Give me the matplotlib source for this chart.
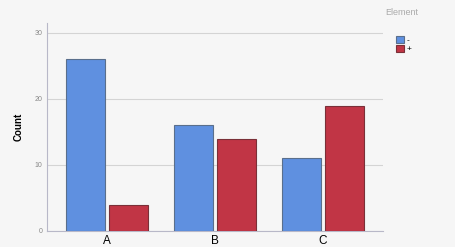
import numpy as np
import matplotlib
matplotlib.use('Agg')
import matplotlib.pyplot as plt

categories = ['A', 'B', 'C']
minus_counts = [26, 16, 11]
plus_counts = [4, 14, 19]
series_labels = ['-', '+']
legend_title = 'Element'
yticks = [0, 10, 20, 30]

plt.rcParams['font.family'] = ['Liberation Sans', 'DejaVu Sans']

fig = plt.figure(figsize=(4.55, 2.47), dpi=100)
fig.patch.set_facecolor('#f6f6f6')
ax = fig.add_axes([0.103, 0.065, 0.739, 0.842])
ax.set_facecolor('#f6f6f6')

x = np.arange(len(categories))
w = 0.355
off = 0.2
ax.bar(x - off, minus_counts, w, color='#5f90e0', edgecolor='#5a6f8c', linewidth=0.8, label=series_labels[0], zorder=3)
ax.bar(x + off, plus_counts, w, color='#c13545', edgecolor='#7a3038', linewidth=0.8, label=series_labels[1], zorder=3)

ax.set_xlim(-0.556, 2.556)
ax.set_ylim(0, 31.5)
ax.set_yticks(yticks)
ax.set_xticks(x)
ax.set_xticklabels(categories, fontsize=8.5)
ax.tick_params(axis='y', labelsize=5, colors='#888888', length=0, pad=3)
ax.tick_params(axis='x', length=0, pad=3)
ax.yaxis.grid(True, color='#d4d4d4', linewidth=0.8, zorder=0)
for s in ['top', 'right']:
    ax.spines[s].set_visible(False)
ax.spines['left'].set_color('#b8b8c8')
ax.spines['bottom'].set_color('#b8b8c8')
ax.set_ylabel('Count', fontsize=7, fontweight='bold', labelpad=8)

fig.text(0.847, 0.95, legend_title, fontsize=6.5, color='#aaaaaa', va='center')
leg = fig.legend(loc='upper left', bbox_to_anchor=(0.871, 0.856),
                 frameon=False, fontsize=6,
                 handlelength=0.95, handleheight=0.95, handletextpad=0.3,
                 labelspacing=0.1, borderpad=0, borderaxespad=0)

fig.savefig('out.png', dpi=100, facecolor=fig.get_facecolor())
